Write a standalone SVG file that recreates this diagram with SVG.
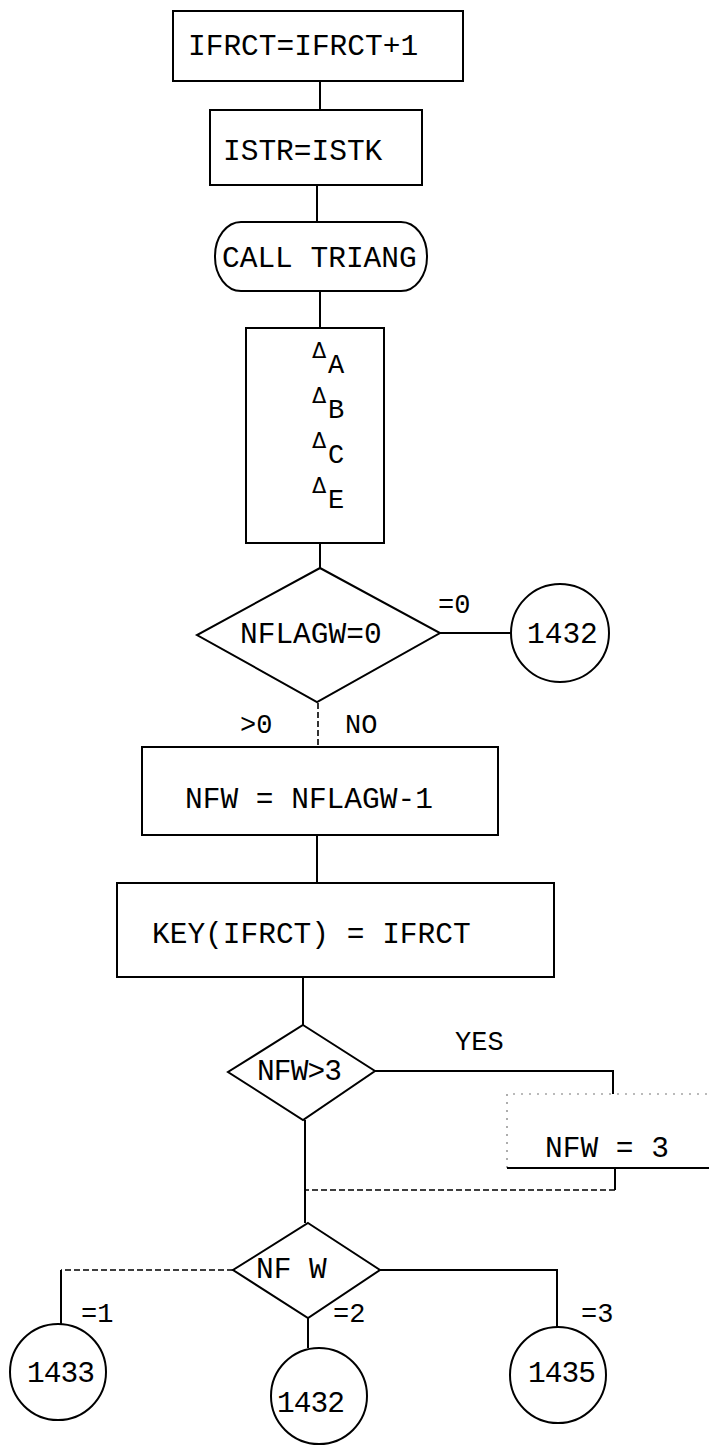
<svg xmlns="http://www.w3.org/2000/svg" width="709" height="1446" viewBox="0 0 709 1446">
  <style>
    .box { fill: #fff; stroke: #000; stroke-width: 2; }
    .ln { fill: none; stroke: #000; stroke-width: 2; }
    .dash { fill: none; stroke: #000; stroke-width: 1.6; stroke-dasharray: 6 3; }
    .faint { fill: none; stroke: #777; stroke-width: 1.2; stroke-dasharray: 2 6; }
    .t { font-family: "Liberation Mono", "Courier New", monospace; font-size: 29.5px; fill: #000; }
    .lbl { font-family: "Liberation Mono", "Courier New", monospace; font-size: 27px; fill: #000; }
    .dl { font-family: "DejaVu Sans", sans-serif; font-size: 21px; fill: #000; }
    .sub { font-family: "Liberation Mono", "Courier New", monospace; font-size: 27px; fill: #000; }
  </style>
  <rect width="709" height="1446" fill="#fff"/>

  <!-- connectors -->
  <g id="connectors">
    <path class="ln" d="M320 81 V110"/>
    <path class="ln" d="M317 185 V222"/>
    <path class="ln" d="M320 291 V328"/>
    <path class="ln" d="M320 543 V568"/>
    <path class="ln" d="M440 633 H511"/>
    <path class="dash" d="M318 703 V747"/>
    <path class="ln" d="M317 835 V883"/>
    <path class="ln" d="M303 977 V1025"/>
    <path class="ln" d="M375 1071 H613 V1094"/>
    <path class="ln" d="M615 1168 V1190"/>
    <path class="dash" d="M615 1190 H305"/>
    <path class="ln" d="M305 1120 V1223"/>
    <path class="dash" d="M233 1270 H61"/>
    <path class="ln" d="M61 1270 V1324"/>
    <path class="ln" d="M308 1318 V1348"/>
    <path class="ln" d="M380 1270 H557 V1327"/>
    <text class="lbl" x="438" y="613">=0</text>
    <text class="lbl" x="240" y="733">&gt;0</text>
    <text class="lbl" x="345" y="733">NO</text>
    <text class="lbl" x="455" y="1050">YES</text>
    <text class="lbl" x="81" y="1322">=1</text>
    <text class="lbl" x="333" y="1322">=2</text>
    <text class="lbl" x="581" y="1322">=3</text>
  </g>

  <g id="inc-ifrct">
    <rect class="box" x="173" y="11" width="290" height="70"/>
    <text class="t" x="188" y="55">IFRCT=IFRCT+1</text>
  </g>

  <g id="set-istr">
    <rect class="box" x="210" y="110" width="212" height="75"/>
    <text class="t" x="223" y="160">ISTR=ISTK</text>
  </g>

  <g id="call-triang">
    <rect class="box" x="215" y="222" width="212" height="69" rx="26" ry="34"/>
    <text class="t" x="222" y="267">CALL TRIANG</text>
  </g>

  <g id="deltas">
    <rect class="box" x="246" y="328" width="138" height="215"/>
    <text class="dl" x="312" y="358">Δ</text><text class="sub" x="328" y="373">A</text>
    <text class="dl" x="312" y="403">Δ</text><text class="sub" x="328" y="418">B</text>
    <text class="dl" x="312" y="448">Δ</text><text class="sub" x="328" y="463">C</text>
    <text class="dl" x="312" y="493">Δ</text><text class="sub" x="328" y="508">E</text>
  </g>

  <g id="test-nflagw">
    <polygon class="box" points="320,568 440,633 317,702 197,635"/>
    <text class="t" x="240" y="643">NFLAGW=0</text>
  </g>

  <g id="goto-1432-a">
    <circle class="box" cx="560" cy="633" r="49"/>
    <text class="t" x="527" y="643">1432</text>
  </g>

  <g id="set-nfw">
    <rect class="box" x="142" y="747" width="356" height="88"/>
    <text class="t" x="185" y="808">NFW = NFLAGW-1</text>
  </g>

  <g id="set-key">
    <rect class="box" x="117" y="883" width="437" height="94"/>
    <text class="t" x="152" y="943">KEY(IFRCT) = IFRCT</text>
  </g>

  <g id="test-nfw-gt3">
    <polygon class="box" points="303,1025 375,1071 303,1120 228,1072"/>
    <text class="t" x="257" y="1080" textLength="85">NFW&gt;3</text>
  </g>

  <g id="clamp-nfw">
    <path class="faint" d="M507 1168 V1094 H709"/>
    <path class="ln" d="M507 1168 H709"/>
    <text class="t" x="545" y="1157">NFW = 3</text>
  </g>

  <g id="switch-nfw">
    <polygon class="box" points="308,1223 380,1270 308,1318 233,1270"/>
    <text class="t" x="256" y="1278">NF W</text>
  </g>

  <g id="goto-1433">
    <circle class="box" cx="58" cy="1372" r="48"/>
    <text class="t" x="27" y="1382" textLength="68">1433</text>
  </g>

  <g id="goto-1432-b">
    <circle class="box" cx="319" cy="1396" r="48"/>
    <text class="t" x="277" y="1412" textLength="68">1432</text>
  </g>

  <g id="goto-1435">
    <circle class="box" cx="558" cy="1375" r="48"/>
    <text class="t" x="528" y="1382" textLength="68">1435</text>
  </g>
</svg>
